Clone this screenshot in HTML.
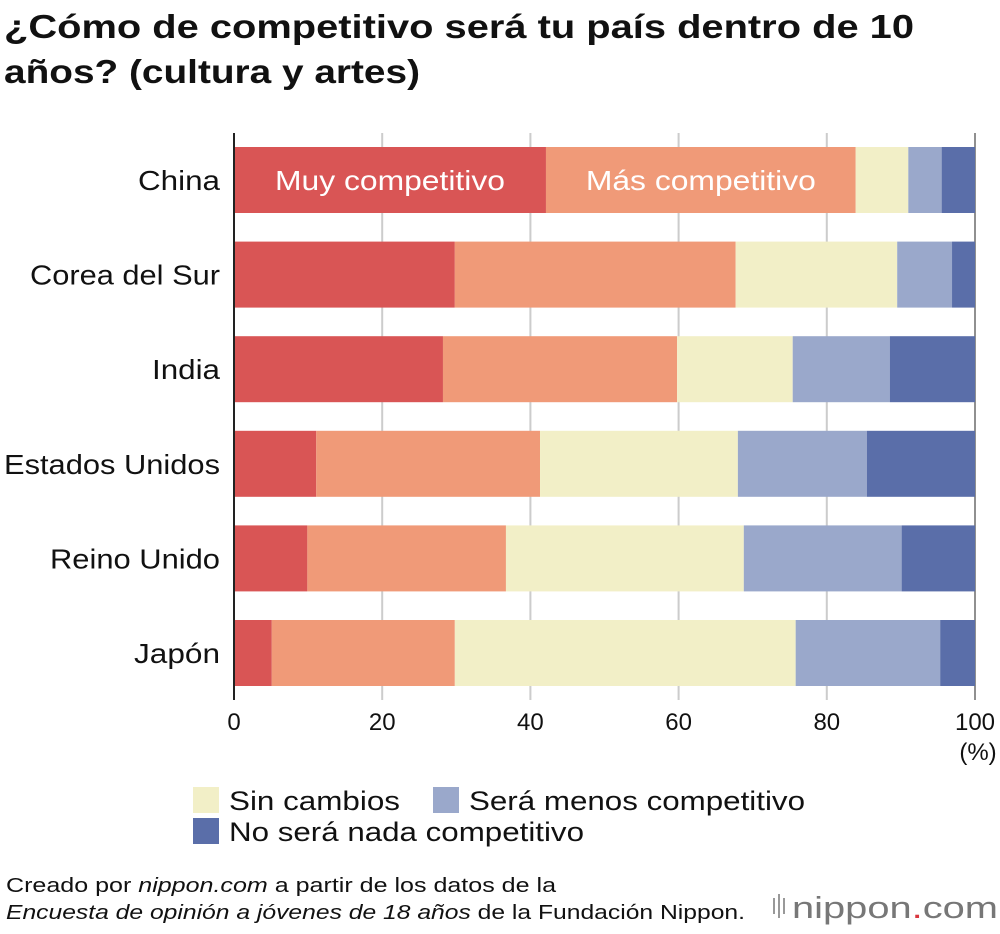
<!DOCTYPE html>
<html><head><meta charset="utf-8">
<style>
body{margin:0;background:#fff;width:1000px;height:934px;overflow:hidden;font-family:"Liberation Sans",sans-serif;}
svg{display:block}
</style></head>
<body>
<svg width="1000" height="934">
<text x="4" y="38" font-size="33" font-weight="bold" fill="#111" textLength="910" lengthAdjust="spacingAndGlyphs">¿Cómo de competitivo será tu país dentro de 10</text>
<text x="4" y="83" font-size="33" font-weight="bold" fill="#111" textLength="416" lengthAdjust="spacingAndGlyphs">años? (cultura y artes)</text>
<g id="plot"></g>
<rect x="193" y="787" width="26" height="26" fill="#f2efc7"/>
<text x="229" y="810" font-size="27" fill="#111" textLength="171" lengthAdjust="spacingAndGlyphs">Sin cambios</text>
<rect x="433" y="787" width="26" height="26" fill="#9aa8cb"/>
<text x="469" y="810" font-size="27" fill="#111" textLength="336" lengthAdjust="spacingAndGlyphs">Será menos competitivo</text>
<rect x="193" y="818" width="26" height="26" fill="#5a6ea9"/>
<text x="229" y="841" font-size="27" fill="#111" textLength="355" lengthAdjust="spacingAndGlyphs">No será nada competitivo</text>
<text x="6" y="892" font-size="20" fill="#111" textLength="550" lengthAdjust="spacingAndGlyphs">Creado por <tspan font-style="italic">nippon.com</tspan> a partir de los datos de la</text>
<text x="6" y="919" font-size="20" fill="#111" textLength="739" lengthAdjust="spacingAndGlyphs"><tspan font-style="italic">Encuesta de opinión a jóvenes de 18 años</tspan> de la Fundación Nippon.</text>
<g>
<rect x="773" y="898" width="2" height="16" fill="#999"/><rect x="778" y="894" width="2" height="24" fill="#999"/><rect x="783" y="898" width="2" height="16" fill="#999"/>
<text x="792" y="918" font-size="31" fill="#777" textLength="206" lengthAdjust="spacingAndGlyphs">nippon<tspan fill="#d9363e">.</tspan>com</text>
</g>
</svg>
<script>
const categories=["China","Corea del Sur","India","Estados Unidos","Reino Unido","Japón"];
const muy=[42.1,29.8,28.2,11.1,9.9,5.1];
const mas=[41.8,37.9,31.6,30.2,26.8,24.7];
const sin=[7.1,21.8,15.6,26.7,32.1,46.0];
const menos=[4.5,7.4,13.1,17.4,21.3,19.5];
const nada=[4.5,3.1,11.5,14.6,9.9,4.7];
const ticks=[0,20,40,60,80,100];
const series=[muy,mas,sin,menos,nada];
const seriesNames=["muy","mas","sin","menos","nada"];
const colors=["#d95555","#f09a78","#f2efc7","#9aa8cb","#5a6ea9"];
const NS="http://www.w3.org/2000/svg";
const g=document.getElementById('plot');
const x=v=>234+v*7.41;
const y=i=>147+i*94.6;
function mk(t,a){const e=document.createElementNS(NS,t);for(const k in a)e.setAttribute(k,a[k]);g.appendChild(e);return e;}
ticks.forEach(t=>{
 if(t>0){const l=mk('line',{x1:x(t),x2:x(t),y1:133,y2:700,stroke:t==100?'#222':'#ccc','stroke-width':t==100?1:2});
 
 }
 const tx=mk('text',{x:x(t),y:730,'font-size':24,'text-anchor':'middle',fill:'#111'});tx.textContent=t;
 
 
});
const pc=mk('text',{x:978,y:760,'font-size':24,'text-anchor':'middle',fill:'#111'});pc.textContent='(%)';


const labelW=[82,190,68,216,170,86];
categories.forEach((c,i)=>{
 let acc=0;
 series.forEach((s,j)=>{
  const r=mk('rect',{x:x(acc),y:y(i),width:x(acc+s[i])-x(acc),height:66,fill:colors[j]});
  
  
  acc+=s[i];
 });
 const t=mk('text',{x:220,y:y(i)+43,'font-size':28,'text-anchor':'end',fill:'#111',textLength:labelW[i],lengthAdjust:'spacingAndGlyphs'});t.textContent=c;
 
 
});
const l1=mk('text',{x:x(muy[0]/2),y:y(0)+43,'font-size':28,'text-anchor':'middle',fill:'#fff',textLength:230,lengthAdjust:'spacingAndGlyphs'});l1.textContent='Muy competitivo';


const l2=mk('text',{x:x(muy[0]+mas[0]/2),y:y(0)+43,'font-size':28,'text-anchor':'middle',fill:'#fff',textLength:230,lengthAdjust:'spacingAndGlyphs'});l2.textContent='Más competitivo';


const ax=mk('line',{x1:234,x2:234,y1:133,y2:700,stroke:'#222','stroke-width':2});


</script>
</body></html>
